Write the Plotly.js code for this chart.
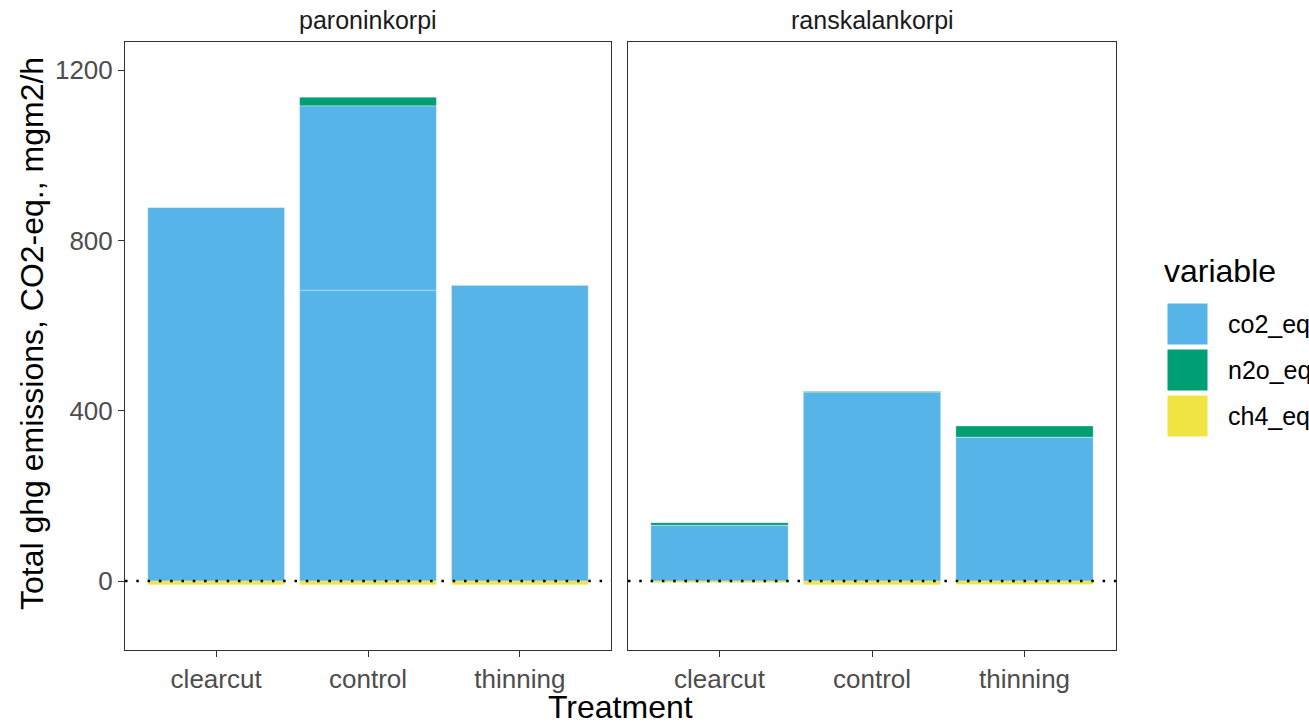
<!DOCTYPE html>
<html>
<head>
<meta charset="utf-8">
<script src="https://cdn.plot.ly/plotly-3.0.1.min.js"></script>
<style>html,body{margin:0;padding:0;background:#fff;}#chart{width:1309px;height:725px;}</style>
</head>
<body>
<div id="chart"></div>
<script>
// ---- data ----
const sites = ['paroninkorpi', 'ranskalankorpi'];
const treatments = ['clearcut', 'control', 'thinning'];
const variables = ['co2_eq', 'n2o_eq', 'ch4_eq'];
const colors = ['#56B4E9', '#009E73', '#F0E442'];

// paroninkorpi (control co2 consists of two stacked records)
const paro_co2_a = [878, 683, 695];
const paro_co2_b = [0, 433, 0];
const paro_n2o = [0, 20, 0];
const paro_ch4 = [-9, -9, -9];

// ranskalankorpi
const rans_co2_a = [131, 443, 338];
const rans_co2_b = [0, 0, 0];
const rans_n2o = [6, 2, 26];
const rans_ch4 = [-4, -9, -8];

const yTicks = [0, 400, 800, 1200];

// ---- build traces ----
const W = 1309, H = 725;
const edge = {color: 'rgba(255,255,255,0.35)', width: 0.8};
function barsFor(xa, ya, co2a, co2b, n2o, ch4) {
  return [
    {type: 'bar', x: treatments, y: co2a, xaxis: xa, yaxis: ya, marker: {color: colors[0], line: edge}, showlegend: false, hoverinfo: 'x+y'},
    {type: 'bar', x: treatments, y: co2b, xaxis: xa, yaxis: ya, marker: {color: colors[0], line: edge}, showlegend: false, hoverinfo: 'x+y'},
    {type: 'bar', x: treatments, y: n2o, xaxis: xa, yaxis: ya, marker: {color: colors[1], line: edge}, showlegend: false, hoverinfo: 'x+y'},
    {type: 'bar', x: treatments, y: ch4, xaxis: xa, yaxis: ya, marker: {color: colors[2], line: edge}, showlegend: false, hoverinfo: 'x+y'}
  ];
}
const data = barsFor('x', 'y', paro_co2_a, paro_co2_b, paro_n2o, paro_ch4)
  .concat(barsFor('x2', 'y2', rans_co2_a, rans_co2_b, rans_n2o, rans_ch4));

const font = 'Liberation Sans, Arial, Helvetica, sans-serif';
const px = v => v / W, py = v => 1 - v / H;
const yRange = [-162, 1266];

const xCommon = {
  type: 'category', range: [-0.6, 2.6], showgrid: false, zeroline: false,
  showline: true, mirror: true, linecolor: '#333333', linewidth: 1,
  ticks: 'outside', ticklen: 6, tickcolor: '#333333', tickwidth: 1,
  tickfont: {family: font, size: 26, color: '#4d4d4d'}, fixedrange: true
};
const yCommon = {
  range: yRange, showgrid: false, zeroline: false,
  showline: true, mirror: true, linecolor: '#333333', linewidth: 1,
  tickvals: yTicks, ticktext: yTicks.map(String), fixedrange: true
};

const shapes = [];
['x', 'x2'].forEach((xa, i) => {
  shapes.push({type: 'line', xref: xa + ' domain', x0: 0, x1: 1, yref: i ? 'y2' : 'y', y0: 0, y1: 0,
    line: {color: '#000000', width: 2.5, dash: '2.5px,8.8px'}, layer: 'above'});
});

// legend drawn manually (large ggplot-style keys)
const legendTop = [303, 349, 395];
const annotations = [];
variables.forEach((v, i) => {
  shapes.push({type: 'rect', xref: 'paper', yref: 'paper', x0: px(1167), x1: px(1208),
    y0: py(legendTop[i] + 42), y1: py(legendTop[i]), fillcolor: colors[i], line: {color: '#ffffff', width: 1}});
  annotations.push({xref: 'paper', yref: 'paper', x: px(1226), y: py(legendTop[i] + 21), xanchor: 'left', yanchor: 'middle',
    text: v, showarrow: false, font: {family: font, size: 25, color: '#000000'}});
});
annotations.push({xref: 'paper', yref: 'paper', x: px(1162), y: py(271), xanchor: 'left', yanchor: 'middle',
  text: 'variable', showarrow: false, font: {family: font, size: 32, color: '#000000'}});
// facet strips
annotations.push({xref: 'paper', yref: 'paper', x: px(368), y: py(20), xanchor: 'center', yanchor: 'middle',
  text: sites[0], showarrow: false, font: {family: font, size: 25, color: '#1a1a1a'}});
annotations.push({xref: 'paper', yref: 'paper', x: px(872), y: py(20), xanchor: 'center', yanchor: 'middle',
  text: sites[1], showarrow: false, font: {family: font, size: 25, color: '#1a1a1a'}});
// axis titles
annotations.push({xref: 'paper', yref: 'paper', x: px(620), y: py(707), xanchor: 'center', yanchor: 'middle',
  text: 'Treatment', showarrow: false, font: {family: font, size: 32, color: '#000000'}});
annotations.push({xref: 'paper', yref: 'paper', x: px(32), y: py(334), xanchor: 'center', yanchor: 'middle',
  text: 'Total ghg emissions, CO2-eq., mgm2/h', textangle: -90, showarrow: false,
  font: {family: font, size: 32, color: '#000000'}});

const layout = {
  width: W, height: H, margin: {l: 0, r: 0, t: 0, b: 0},
  paper_bgcolor: '#ffffff', plot_bgcolor: '#ffffff',
  barmode: 'relative', bargap: 0.1, showlegend: false,
  font: {family: font},
  xaxis: Object.assign({}, xCommon, {domain: [px(125), px(611)], anchor: 'y'}),
  xaxis2: Object.assign({}, xCommon, {domain: [px(628), px(1116)], anchor: 'y2'}),
  yaxis: Object.assign({}, yCommon, {domain: [py(650), py(42)], anchor: 'x',
    ticks: 'outside', ticklen: 6, tickcolor: '#333333', tickwidth: 1,
    tickfont: {family: font, size: 26, color: '#4d4d4d'}}),
  yaxis2: Object.assign({}, yCommon, {domain: [py(650), py(42)], anchor: 'x2',
    ticks: '', showticklabels: false}),
  shapes: shapes,
  annotations: annotations
};

Plotly.newPlot('chart', data, layout, {displayModeBar: false, staticPlot: true});
</script>
</body>
</html>
